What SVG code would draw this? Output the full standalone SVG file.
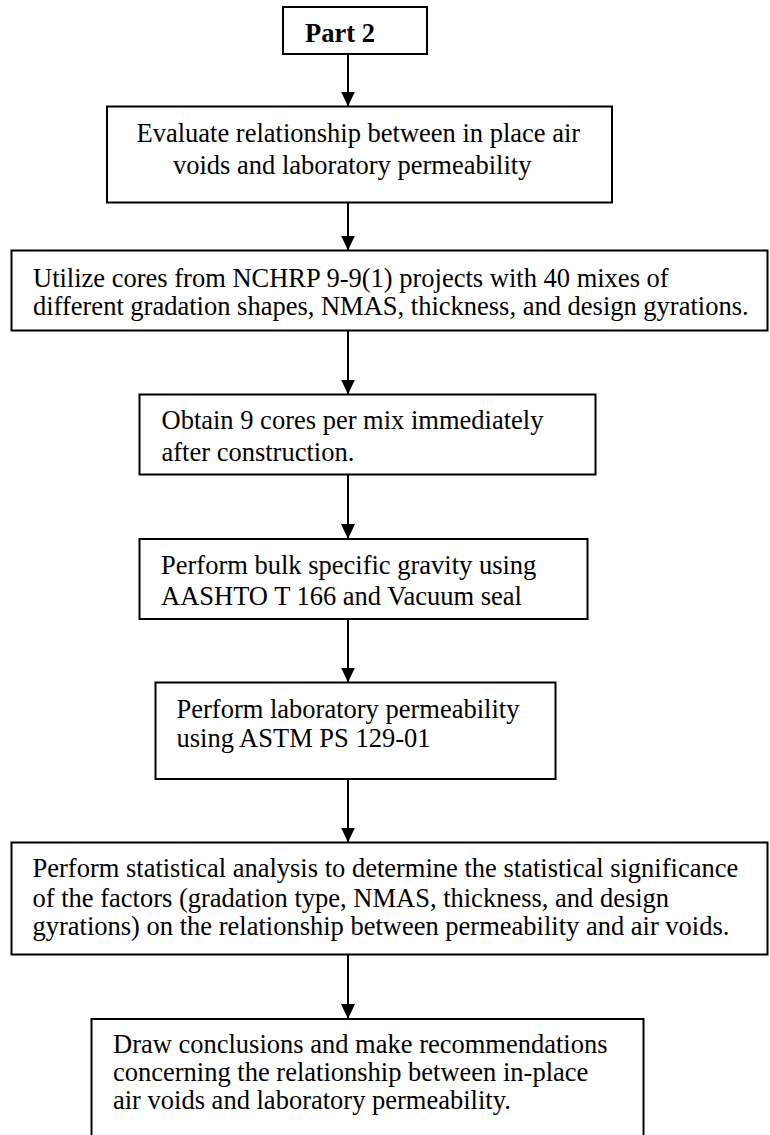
<svg xmlns="http://www.w3.org/2000/svg" width="770" height="1135" viewBox="0 0 770 1135">
<style>
.box{fill:#fff;stroke:#000;stroke-width:2}
.t{font-family:"Liberation Serif","Times New Roman",serif;font-size:26.5px;fill:#000}
.b{font-weight:bold}
.c{stroke:#000;stroke-width:2;fill:none}
</style>
<defs>
<marker id="ah" markerUnits="userSpaceOnUse" viewBox="0 0 15 14" markerWidth="15" markerHeight="14" refX="15" refY="7" orient="auto">
<path d="M0,0 L15,7 L0,14 z" fill="#000"/>
</marker>
</defs>
<rect width="770" height="1135" fill="#fff"/>
<g id="connectors">
<line class="c" x1="348" y1="54" x2="348" y2="106.5" marker-end="url(#ah)"/>
<line class="c" x1="348" y1="202.5" x2="348" y2="250.5" marker-end="url(#ah)"/>
<line class="c" x1="348" y1="330.5" x2="348" y2="394.5" marker-end="url(#ah)"/>
<line class="c" x1="348" y1="474.5" x2="348" y2="539" marker-end="url(#ah)"/>
<line class="c" x1="348" y1="619" x2="348" y2="682.5" marker-end="url(#ah)"/>
<line class="c" x1="348" y1="779" x2="348" y2="842.5" marker-end="url(#ah)"/>
<line class="c" x1="348" y1="954.5" x2="348" y2="1019" marker-end="url(#ah)"/>
</g>
<g id="part2">
<rect class="box" x="283" y="7" width="144" height="47"/>
<text class="t b" x="305" y="42">Part 2</text>
</g>
<g id="evaluate">
<rect class="box" x="107" y="106.5" width="505" height="96"/>
<text class="t" x="136.5" y="141.5">Evaluate relationship between in place air</text>
<text class="t" x="173" y="173.5">voids and laboratory permeability</text>
</g>
<g id="utilize">
<rect class="box" x="11.5" y="250.5" width="756" height="80"/>
<text class="t" x="33" y="286.5">Utilize cores from NCHRP 9-9(1) projects with 40 mixes of</text>
<text class="t" x="33" y="315">different gradation shapes, NMAS, thickness, and design gyrations.</text>
</g>
<g id="obtain">
<rect class="box" x="139.5" y="394.5" width="456" height="80"/>
<text class="t" x="161.5" y="428.5">Obtain 9 cores per mix immediately</text>
<text class="t" x="161.5" y="460.5">after construction.</text>
</g>
<g id="bulk">
<rect class="box" x="139.5" y="539" width="448" height="80"/>
<text class="t" x="161" y="573.5">Perform bulk specific gravity using</text>
<text class="t" x="161" y="604.5">AASHTO T 166 and Vacuum seal</text>
</g>
<g id="permeability">
<rect class="box" x="155.5" y="682.5" width="400" height="96.5"/>
<text class="t" x="176.5" y="717.5">Perform laboratory permeability</text>
<text class="t" x="176.5" y="746.5">using ASTM PS 129-01</text>
</g>
<g id="statistics">
<rect class="box" x="11.5" y="842.5" width="756" height="112"/>
<text class="t" x="32.5" y="876.5">Perform statistical analysis to determine the statistical significance</text>
<text class="t" x="32.5" y="906.5">of the factors (gradation type, NMAS, thickness, and design</text>
<text class="t" x="32.5" y="935">gyrations) on the relationship between permeability and air voids.</text>
</g>
<g id="conclusions">
<rect class="box" x="91.5" y="1019" width="552" height="130"/>
<text class="t" x="113" y="1053">Draw conclusions and make recommendations</text>
<text class="t" x="113" y="1081">concerning the relationship between in-place</text>
<text class="t" x="113" y="1109">air voids and laboratory permeability.</text>
</g>
</svg>
